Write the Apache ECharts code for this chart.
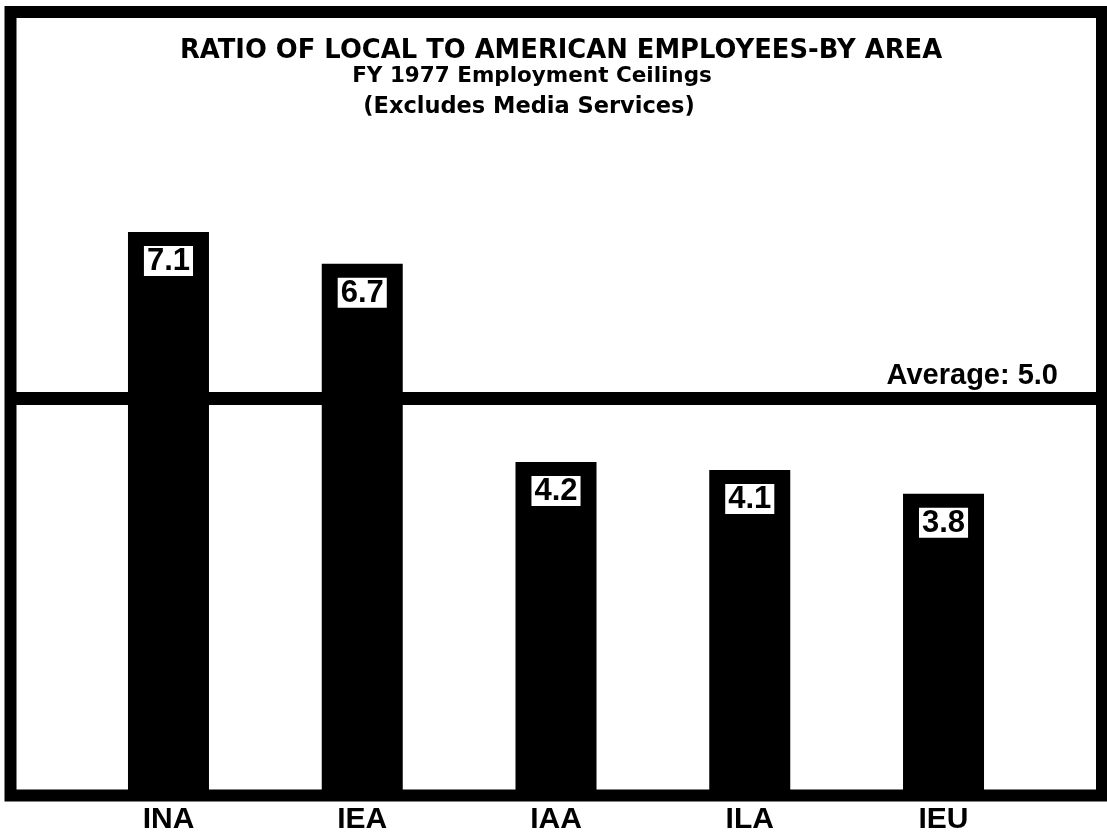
<!DOCTYPE html>
<html>
<head>
<meta charset="utf-8">
<script src="https://cdn.jsdelivr.net/npm/echarts@6/dist/echarts.min.js"></script>
<style>
  html, body { margin: 0; padding: 0; background: #fff; }
  #chart { width: 1107px; height: 838px; }
</style>
</head>
<body>
<div id="chart"></div>
<script>
// ---- data ----
const categories = ['INA', 'IEA', 'IAA', 'ILA', 'IEU'];
const ratios = [7.1, 6.7, 4.2, 4.1, 3.8];
const averageRatio = 5.0;
const averageLabel = 'Average: ';
const titleLines = [
  'RATIO OF LOCAL TO AMERICAN EMPLOYEES-BY AREA',
  'FY 1977 Employment Ceilings',
  '(Excludes Media Services)'
];

// ---- chart ----
const yMax = 9.87;
const chart = echarts.init(document.getElementById('chart'), null, { renderer: 'canvas' });

const titleFont = 'DejaVu Sans';
const bodyFont = 'Liberation Sans';

const option = {
  backgroundColor: '#fff',
  animation: false,
  title: [
    { text: titleLines[0], left: 556, top: 33, textAlign: 'center',
      textStyle: { fontFamily: titleFont, fontWeight: 'bold', fontSize: 25.8, color: '#000' } },
    { text: titleLines[1], left: 527, top: 60, textAlign: 'center',
      textStyle: { fontFamily: titleFont, fontWeight: 'bold', fontSize: 21.5, color: '#000' } },
    { text: titleLines[2], left: 524, top: 91, textAlign: 'center',
      textStyle: { fontFamily: titleFont, fontWeight: 'bold', fontSize: 22.5, color: '#000' } }
  ],
  grid: [
    { // frame
      left: 10.5, right: 5, top: 12, bottom: 42.5,
      show: true, borderColor: '#000', borderWidth: 12, backgroundColor: '#fff'
    },
    { // bars
      left: 71.6, right: 66.6, top: 12, bottom: 42.5, show: false
    }
  ],
  xAxis: [
    { gridIndex: 0, type: 'value', min: 0, max: 1, show: false },
    {
      gridIndex: 1, type: 'category', data: categories,
      axisLine: { show: false }, axisTick: { show: false },
      axisLabel: {
        margin: 9, color: '#000', fontFamily: bodyFont, fontWeight: 'bold', fontSize: 30
      }
    }
  ],
  yAxis: [
    { gridIndex: 0, type: 'value', min: 0, max: yMax, show: false },
    { gridIndex: 1, type: 'value', min: 0, max: yMax, show: false }
  ],
  series: [
    {
      type: 'line', xAxisIndex: 0, yAxisIndex: 0, data: [], silent: true,
      markLine: {
        silent: true, symbol: ['none', 'none'], animation: false,
        lineStyle: { color: '#000', width: 13, type: 'solid' },
        label: {
          show: true, position: 'insideEndTop', distance: [44, 8],
          formatter: () => averageLabel + averageRatio.toFixed(1),
          color: '#000', fontFamily: bodyFont, fontWeight: 'bold', fontSize: 29
        },
        data: [{ yAxis: averageRatio }]
      }
    },
    {
      type: 'bar', xAxisIndex: 1, yAxisIndex: 1, data: ratios,
      barWidth: 81, z: 3,
      itemStyle: { color: '#000' },
      label: {
        show: true, position: 'insideTop', distance: 14,
        formatter: p => p.value.toFixed(1),
        color: '#000', backgroundColor: '#fff',
        fontFamily: bodyFont, fontWeight: 'bold', fontSize: 31,
        lineHeight: 27, padding: [2, 3, 1, 3]
      }
    }
  ]
};
chart.setOption(option);
</script>
</body>
</html>
